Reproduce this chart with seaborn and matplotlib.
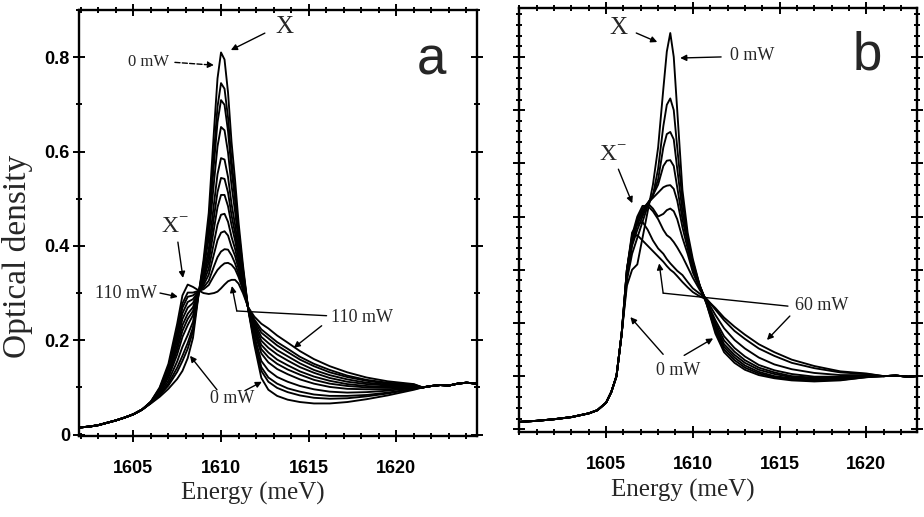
import matplotlib
matplotlib.use("Agg")
import matplotlib.pyplot as plt
import numpy as np
import pandas as pd
import seaborn as sns
from matplotlib.ticker import MultipleLocator, FuncFormatter

# ---------------- Panel a data ----------------
energy_a_low = [1601.9, 1602.5, 1603.0, 1603.5, 1604.0, 1604.5, 1605.0, 1605.5]
od_a_low = [0.015, 0.017, 0.020, 0.025, 0.030, 0.036, 0.043, 0.053]

energy_a_mid = [1606.0, 1606.5, 1607.0, 1607.5, 1607.8, 1608.1, 1608.4, 1608.75,
                1609.0, 1609.3, 1609.6, 1609.8, 1610.0, 1610.2, 1610.4, 1610.6,
                1610.8, 1611.0, 1611.25, 1611.55, 1611.9, 1612.3, 1612.7, 1613.2,
                1613.8, 1614.5, 1615.3, 1616.2, 1617.2, 1618.3, 1619.5, 1621.0]

od_a_000mW = [0.066, 0.080, 0.097, 0.118, 0.135, 0.162, 0.205, 0.305, 0.370, 0.470, 0.645, 0.755,
              0.810, 0.795, 0.725, 0.620, 0.540, 0.450, 0.360, 0.265, 0.190, 0.120, 0.095, 0.082,
              0.074, 0.069, 0.066, 0.066, 0.069, 0.075, 0.083, 0.095]
od_a_010mW = [0.067, 0.083, 0.104, 0.133, 0.156, 0.182, 0.219, 0.305, 0.361, 0.448, 0.600, 0.695,
              0.745, 0.733, 0.672, 0.582, 0.512, 0.433, 0.352, 0.266, 0.198, 0.135, 0.112, 0.099,
              0.090, 0.083, 0.078, 0.076, 0.077, 0.081, 0.087, 0.097]
od_a_020mW = [0.067, 0.084, 0.108, 0.142, 0.167, 0.194, 0.227, 0.305, 0.356, 0.435, 0.575, 0.662,
              0.709, 0.699, 0.643, 0.561, 0.497, 0.424, 0.348, 0.266, 0.202, 0.143, 0.121, 0.108,
              0.098, 0.091, 0.085, 0.082, 0.082, 0.084, 0.089, 0.097]
od_a_030mW = [0.067, 0.086, 0.114, 0.155, 0.186, 0.211, 0.239, 0.305, 0.348, 0.416, 0.536, 0.611,
              0.652, 0.645, 0.598, 0.528, 0.473, 0.409, 0.341, 0.267, 0.209, 0.156, 0.136, 0.122,
              0.112, 0.103, 0.096, 0.091, 0.089, 0.090, 0.093, 0.099]
od_a_040mW = [0.068, 0.089, 0.121, 0.170, 0.207, 0.232, 0.253, 0.305, 0.339, 0.393, 0.490, 0.552,
              0.586, 0.583, 0.546, 0.489, 0.445, 0.392, 0.333, 0.267, 0.217, 0.172, 0.153, 0.139,
              0.128, 0.117, 0.108, 0.101, 0.097, 0.096, 0.096, 0.100]
od_a_050mW = [0.068, 0.091, 0.125, 0.180, 0.220, 0.245, 0.262, 0.305, 0.333, 0.379, 0.462, 0.514,
              0.544, 0.542, 0.513, 0.465, 0.427, 0.381, 0.328, 0.268, 0.222, 0.181, 0.164, 0.150,
              0.138, 0.127, 0.116, 0.108, 0.103, 0.100, 0.099, 0.101]
od_a_060mW = [0.068, 0.092, 0.129, 0.189, 0.232, 0.256, 0.270, 0.305, 0.328, 0.366, 0.437, 0.482,
              0.508, 0.508, 0.484, 0.444, 0.412, 0.372, 0.324, 0.268, 0.226, 0.190, 0.174, 0.159,
              0.147, 0.134, 0.123, 0.114, 0.107, 0.103, 0.101, 0.102]
od_a_070mW = [0.069, 0.094, 0.134, 0.199, 0.245, 0.269, 0.279, 0.305, 0.322, 0.352, 0.408, 0.445,
              0.466, 0.468, 0.451, 0.419, 0.394, 0.361, 0.319, 0.268, 0.231, 0.199, 0.184, 0.170,
              0.157, 0.143, 0.131, 0.120, 0.112, 0.107, 0.104, 0.103]
od_a_080mW = [0.069, 0.095, 0.137, 0.207, 0.257, 0.281, 0.287, 0.305, 0.317, 0.339, 0.383, 0.412,
              0.428, 0.431, 0.422, 0.398, 0.379, 0.351, 0.314, 0.269, 0.236, 0.207, 0.194, 0.179,
              0.166, 0.151, 0.137, 0.126, 0.117, 0.110, 0.106, 0.104]
od_a_090mW = [0.069, 0.097, 0.141, 0.216, 0.269, 0.292, 0.295, 0.305, 0.312, 0.326, 0.357, 0.376,
              0.388, 0.393, 0.392, 0.380, 0.363, 0.341, 0.310, 0.269, 0.240, 0.216, 0.204, 0.189,
              0.175, 0.159, 0.145, 0.132, 0.122, 0.114, 0.108, 0.105]
od_a_100mW = [0.070, 0.098, 0.144, 0.222, 0.278, 0.301, 0.301, 0.305, 0.308, 0.317, 0.337, 0.349,
              0.357, 0.363, 0.364, 0.360, 0.351, 0.334, 0.307, 0.269, 0.244, 0.223, 0.211, 0.196,
              0.182, 0.165, 0.150, 0.137, 0.125, 0.116, 0.110, 0.106]
od_a_110mW = [0.070, 0.100, 0.150, 0.235, 0.295, 0.318, 0.313, 0.305, 0.300, 0.298, 0.300, 0.303,
              0.310, 0.318, 0.325, 0.328, 0.328, 0.320, 0.300, 0.270, 0.250, 0.235, 0.225, 0.210,
              0.195, 0.177, 0.160, 0.145, 0.132, 0.121, 0.113, 0.107]

energy_a_tail = [1621.5, 1622.0, 1622.5, 1623.0, 1623.5, 1624.0, 1624.6]
od_a_tail = [0.100, 0.103, 0.105, 0.104, 0.108, 0.110, 0.108]

curves_a = [od_a_000mW, od_a_010mW, od_a_020mW, od_a_030mW, od_a_040mW, od_a_050mW,
            od_a_060mW, od_a_070mW, od_a_080mW, od_a_090mW, od_a_100mW, od_a_110mW]

# ---------------- Panel b data ----------------
energy_b_low = [1600.0, 1601.0, 1602.0, 1603.0, 1604.0, 1604.5, 1605.0, 1605.3]
od_b_low = [0.014, 0.016, 0.019, 0.023, 0.030, 0.036, 0.050, 0.070]

energy_b_mid = [1605.6, 1605.9, 1606.2, 1606.5, 1606.8, 1607.1, 1607.4, 1607.7, 1608.0,
                1608.3, 1608.5, 1608.7, 1608.9, 1609.1, 1609.4, 1609.7, 1610.0, 1610.4,
                1610.8, 1611.3, 1611.8, 1612.4, 1613.0, 1613.8, 1614.7, 1615.7, 1617.0,
                1618.5, 1620.0]

od_b_c0 = [0.10, 0.18, 0.27, 0.30, 0.31, 0.36, 0.41, 0.46, 0.53, 0.64, 0.71, 0.745, 0.70, 0.60,
           0.45, 0.37, 0.32, 0.27, 0.235, 0.18, 0.145, 0.125, 0.112, 0.102, 0.096, 0.092, 0.090,
           0.092, 0.098]
od_b_c1 = [0.10, 0.18, 0.28, 0.33, 0.36, 0.39, 0.42, 0.44, 0.49, 0.57, 0.61, 0.622, 0.60, 0.53,
           0.43, 0.36, 0.315, 0.27, 0.235, 0.185, 0.15, 0.13, 0.116, 0.105, 0.098, 0.094, 0.092,
           0.093, 0.098]
od_b_c2 = [0.10, 0.18, 0.285, 0.345, 0.375, 0.40, 0.425, 0.44, 0.47, 0.53, 0.555, 0.559, 0.545,
           0.49, 0.41, 0.355, 0.31, 0.27, 0.237, 0.19, 0.155, 0.135, 0.12, 0.108, 0.10, 0.096,
           0.094, 0.095, 0.099]
od_b_c3 = [0.10, 0.18, 0.29, 0.35, 0.385, 0.405, 0.425, 0.44, 0.46, 0.495, 0.505, 0.506, 0.495,
           0.455, 0.395, 0.35, 0.305, 0.27, 0.238, 0.195, 0.16, 0.14, 0.125, 0.112, 0.104, 0.098,
           0.096, 0.097, 0.10]
od_b_c4 = [0.10, 0.18, 0.295, 0.355, 0.39, 0.41, 0.425, 0.435, 0.445, 0.455, 0.458, 0.459, 0.452,
           0.43, 0.38, 0.34, 0.30, 0.268, 0.24, 0.20, 0.167, 0.146, 0.13, 0.116, 0.107, 0.10,
           0.097, 0.098, 0.10]
od_b_c5 = [0.10, 0.18, 0.30, 0.36, 0.395, 0.415, 0.425, 0.415, 0.40, 0.405, 0.412, 0.415, 0.41,
           0.395, 0.36, 0.33, 0.295, 0.265, 0.24, 0.205, 0.175, 0.153, 0.137, 0.121, 0.111, 0.104,
           0.099, 0.099, 0.101]
od_b_c6 = [0.10, 0.18, 0.30, 0.365, 0.40, 0.42, 0.42, 0.41, 0.395, 0.375, 0.365, 0.36, 0.352,
           0.342, 0.325, 0.305, 0.285, 0.262, 0.243, 0.215, 0.19, 0.168, 0.152, 0.135, 0.122,
           0.113, 0.106, 0.102, 0.102]
od_b_c7 = [0.10, 0.18, 0.30, 0.37, 0.385, 0.39, 0.375, 0.355, 0.34, 0.33, 0.32, 0.312, 0.305,
           0.298, 0.29, 0.277, 0.265, 0.255, 0.245, 0.225, 0.205, 0.185, 0.17, 0.152, 0.138,
           0.125, 0.115, 0.107, 0.104]
od_b_60mW = [0.10, 0.18, 0.30, 0.36, 0.365, 0.355, 0.345, 0.335, 0.325, 0.315, 0.307, 0.30, 0.295,
             0.288, 0.277, 0.267, 0.258, 0.25, 0.244, 0.228, 0.21, 0.193, 0.178, 0.16, 0.145,
             0.131, 0.119, 0.109, 0.105]

energy_b_tail = [1621.0, 1621.7, 1622.4, 1622.9]
od_b_tail = [0.100, 0.101, 0.099, 0.100]

curves_b = [od_b_c0, od_b_c1, od_b_c2, od_b_c3, od_b_c4, od_b_c5, od_b_c6, od_b_c7, od_b_60mW]

x_ticks = [1605, 1610, 1615, 1620]


def build(low_e, low_v, mid_e, curves, tail_e, tail_v):
    rows = []
    for i, c in enumerate(curves):
        e = list(low_e) + list(mid_e) + list(tail_e)
        v = list(low_v) + list(c) + list(tail_v)
        for xx, yy in zip(e, v):
            rows.append((i, xx, yy))
    return pd.DataFrame(rows, columns=["curve", "energy", "od"])


df_a = build(energy_a_low, od_a_low, energy_a_mid, curves_a, energy_a_tail, od_a_tail)
df_b = build(energy_b_low, od_b_low, energy_b_mid, curves_b, energy_b_tail, od_b_tail)

sns.set_style("ticks")
plt.rcParams["font.family"] = ["Liberation Sans", "DejaVu Sans"]
plt.rcParams["font.weight"] = "bold"

W, H = 924, 517
fig = plt.figure(figsize=(W / 100, H / 100), dpi=100)
ax_a = fig.add_axes([79 / W, 1 - 436 / H, (477 - 79) / W, (436 - 10) / H])
ax_b = fig.add_axes([519.3 / W, 1 - 432 / H, (916.7 - 519.3) / W, (432 - 8) / H])

for ax, df in ((ax_a, df_a), (ax_b, df_b)):
    sns.lineplot(data=df, x="energy", y="od", units="curve", estimator=None, sort=False,
                 color="black", linewidth=1.35, legend=False, ax=ax)
    ax.set_xlabel("")
    ax.set_ylabel("")
    ax.set_xticks(x_ticks)
    ax.xaxis.set_minor_locator(MultipleLocator(1))
    ax.tick_params(which="both", direction="inout", top=True, right=True, width=1.4,
                   labelsize=13, colors="black")
    ax.tick_params(which="major", length=9)
    ax.tick_params(which="minor", length=5)
    ax.tick_params(axis="x", pad=13)
    for s in ax.spines.values():
        s.set_linewidth(1.7)
        s.set_color("black")

ax_a.set_xlim(1601.9, 1624.6)
ax_a.set_ylim(-0.003, 0.9)
ax_a.yaxis.set_major_locator(MultipleLocator(0.2))
ax_a.yaxis.set_minor_locator(MultipleLocator(0.1))
ax_a.yaxis.set_major_formatter(FuncFormatter(lambda v, p: "0" if abs(v) < 1e-9 else f"{v:.1f}"))
ax_a.tick_params(axis="y", pad=2)

ax_b.set_xlim(1600.0, 1622.9)
ax_b.set_ylim(-0.005, 0.792)
ax_b.yaxis.set_major_locator(MultipleLocator(0.1))
ax_b.yaxis.set_minor_locator(MultipleLocator(0.02))
ax_b.tick_params(axis="y", labelleft=False)

serif = ["Liberation Serif", "DejaVu Serif"]
ann_kw = dict(fontfamily=serif, fontweight="normal", ha="center", va="center")
arrow = dict(arrowstyle="-|>", color="black", lw=1.0, mutation_scale=9, shrinkA=0, shrinkB=0)

# axis labels
fig.text(18 / W, 1 - 256 / H, "Optical density", rotation=90, fontsize=24, **ann_kw)
fig.text(253 / W, 1 - 493 / H, "Energy (meV)", fontsize=18, **ann_kw)
fig.text(683 / W, 1 - 490 / H, "Energy (meV)", fontsize=18, **ann_kw)

# ---- panel a annotations ----
ax_a.text(1613.64, 0.8635, "X", fontsize=18, **ann_kw)
ax_a.annotate("", xy=(1610.56, 0.815), xytext=(1612.5, 0.851), arrowprops=arrow)
ax_a.text(1605.84, 0.789, "0 mW", fontsize=12, **ann_kw)
ax_a.annotate("", xy=(1609.6, 0.783), xytext=(1607.37, 0.789),
              arrowprops=dict(arrow, linestyle="--"))
ax_a.text(1622.0, 0.794, "a", fontsize=38, fontweight="normal", ha="center", va="center")
ax_a.text(1607.37, 0.438, "X$^{\\mathregular{-}}$", fontsize=17, **ann_kw)
ax_a.annotate("", xy=(1607.83, 0.332), xytext=(1607.54, 0.408), arrowprops=arrow)
ax_a.text(1604.59, 0.30, "110 mW", fontsize=13, **ann_kw)
ax_a.annotate("", xy=(1607.54, 0.292), xytext=(1606.52, 0.30), arrowprops=arrow)
ax_a.text(1618.02, 0.2476, "110 mW", fontsize=13, **ann_kw)
ax_a.plot([1616.02, 1610.9], [0.252, 0.262], color="black", lw=1.0)
ax_a.annotate("", xy=(1610.62, 0.315), xytext=(1610.9, 0.262), arrowprops=arrow)
ax_a.annotate("", xy=(1614.15, 0.184), xytext=(1615.74, 0.2307), arrowprops=arrow)
ax_a.text(1610.63, 0.076, "0 mW", fontsize=13, **ann_kw)
ax_a.annotate("", xy=(1608.23, 0.167), xytext=(1609.77, 0.095), arrowprops=arrow)
ax_a.annotate("", xy=(1612.33, 0.112), xytext=(1611.36, 0.093), arrowprops=arrow)

# ---- panel b annotations ----
ax_b.text(1605.71, 0.754, "X", fontsize=18, **ann_kw)
ax_b.annotate("", xy=(1607.95, 0.728), xytext=(1606.74, 0.745), arrowprops=arrow)
ax_b.text(1613.41, 0.703, "0 mW", fontsize=13, **ann_kw)
ax_b.annotate("", xy=(1609.27, 0.698), xytext=(1611.63, 0.70), arrowprops=arrow)
ax_b.text(1620.07, 0.703, "b", fontsize=38, fontweight="normal", ha="center", va="center")
ax_b.text(1605.42, 0.515, "X$^{\\mathregular{-}}$", fontsize=17, **ann_kw)
ax_b.annotate("", xy=(1606.51, 0.425), xytext=(1605.71, 0.489), arrowprops=arrow)
ax_b.text(1617.43, 0.233, "60 mW", fontsize=13, **ann_kw)
ax_b.plot([1615.48, 1608.29], [0.2316, 0.256], color="black", lw=1.0)
ax_b.annotate("", xy=(1608.06, 0.312), xytext=(1608.29, 0.256), arrowprops=arrow)
ax_b.annotate("", xy=(1614.27, 0.168), xytext=(1615.59, 0.213), arrowprops=arrow)
ax_b.text(1609.16, 0.111, "0 mW", fontsize=13, **ann_kw)
ax_b.annotate("", xy=(1606.4, 0.211), xytext=(1608.29, 0.141), arrowprops=arrow)
ax_b.annotate("", xy=(1611.17, 0.171), xytext=(1609.5, 0.139), arrowprops=arrow)

fig.savefig("out.png", dpi=100)
